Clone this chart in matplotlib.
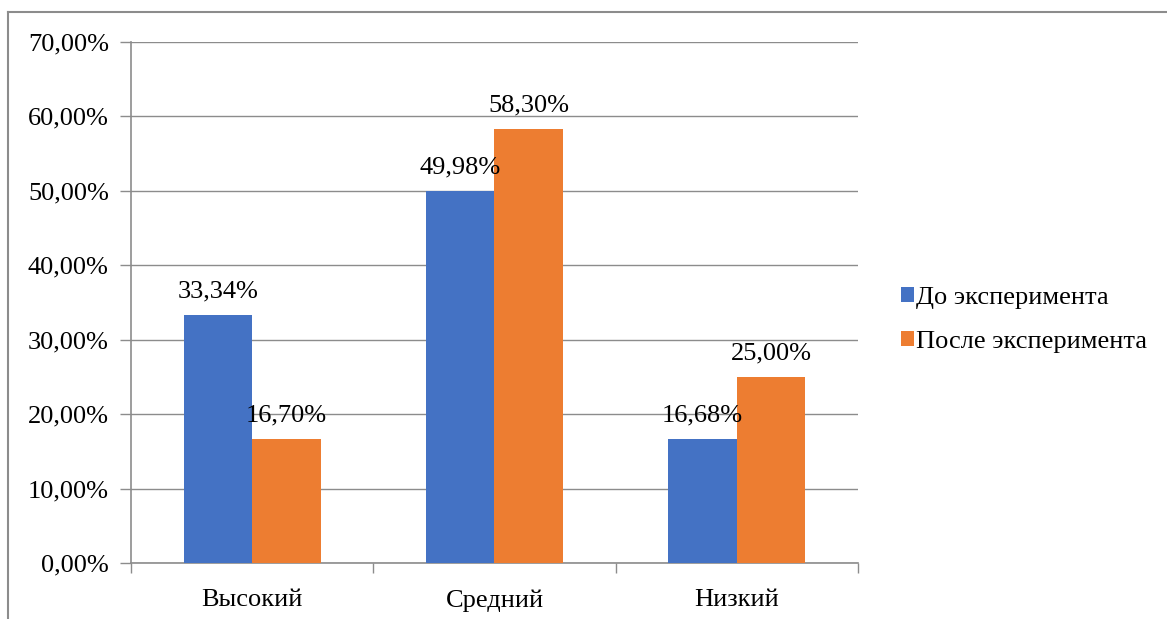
import matplotlib
matplotlib.use("Agg")
import matplotlib.pyplot as plt
from matplotlib.patches import Patch
from matplotlib.lines import Line2D
import numpy as np

categories = ["Высокий", "Средний", "Низкий"]
series_names = ["До эксперимента", "После эксперимента"]
before = [33.34, 49.98, 16.68]
after = [16.70, 58.30, 25.00]
y_ticks = [0, 10, 20, 30, 40, 50, 60, 70]

colors = ["#4472C4", "#ED7D31"]
grid_color = "#8C8C8C"

plt.rcParams["font.family"] = ["Liberation Serif", "DejaVu Serif"]
FS = 19

fig = plt.figure(figsize=(11.67, 6.19), dpi=100)
ax = fig.add_axes([131 / 1167, 1 - 563 / 619, (858 - 131) / 1167, (563 - 42) / 619])

x = np.arange(len(categories))
w = 0.283
b1 = ax.bar(x - w / 2, before, w, color=colors[0], zorder=3)
b2 = ax.bar(x + w / 2, after, w, color=colors[1], zorder=3)

fmt = lambda v: f"{v:.2f}".replace(".", ",") + "%"
ax.bar_label(b1, labels=[fmt(v) for v in before], padding=9, fontsize=FS, zorder=4)
ax.bar_label(b2, labels=[fmt(v) for v in after], padding=9, fontsize=FS, zorder=4)

ax.set_xlim(-0.5, len(categories) - 0.5)
ax.set_ylim(0, 70)
ax.set_yticks(y_ticks)
ax.set_yticklabels([fmt(v) for v in y_ticks], fontsize=FS)
ax.set_xticks(x)
ax.set_xticklabels(categories, fontsize=FS)
ax.tick_params(axis="x", length=0, pad=19)
ax.tick_params(axis="y", length=8, width=1, color=grid_color, pad=8)

# category boundary ticks below the axis
ax.set_xticks(np.arange(len(categories) + 1) - 0.5, minor=True)
ax.tick_params(axis="x", which="minor", length=7, width=1, color=grid_color)

ax.yaxis.grid(True, color=grid_color, linewidth=1, zorder=0)
for side in ["top", "right"]:
    ax.spines[side].set_visible(False)
for side in ["left", "bottom"]:
    ax.spines[side].set_color(grid_color)
    ax.spines[side].set_linewidth(1.2)

handles = [Patch(facecolor=c, edgecolor="none") for c in colors]
fig.legend(handles, series_names, loc="center left",
           bbox_to_anchor=(890 / 1167, 1 - 320 / 619), frameon=False,
           fontsize=FS, handlelength=0.5, handleheight=0.5,
           handletextpad=0.1, labelspacing=0.85, borderaxespad=0)

# outer frame (left and top edges)
fig.add_artist(Line2D([8 / 1167, 8 / 1167], [0, 1 - 12 / 619],
                      transform=fig.transFigure, color=grid_color, linewidth=1.5))
fig.add_artist(Line2D([8 / 1167, 1], [1 - 12 / 619, 1 - 12 / 619],
                      transform=fig.transFigure, color=grid_color, linewidth=1.5))

fig.savefig("out.png", dpi=100, facecolor="white")
